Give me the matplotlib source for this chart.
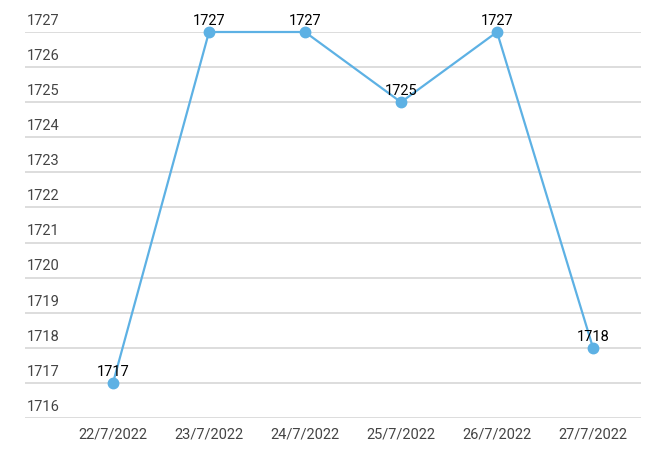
import matplotlib.pyplot as plt
from matplotlib import transforms

plt.rcParams['font.family'] = ['Roboto', 'DejaVu Sans']

dates = ['22/7/2022', '23/7/2022', '24/7/2022', '25/7/2022', '26/7/2022', '27/7/2022']
values = [1717, 1727, 1727, 1725, 1727, 1718]
y_ticks = list(range(1716, 1728))

line_color = '#5DB1E4'
grid_color = '#DDDDDD'
label_color = '#444444'

fig = plt.figure(figsize=(6.6, 4.67), dpi=100)
ax = fig.add_axes([25 / 660, 49 / 467, 616 / 660, 386 / 467])

x = list(range(len(dates)))
ax.plot(x, values, color=line_color, lw=1.6, marker='o', markersize=7.5,
        zorder=3, clip_on=False)

for xi, v in zip(x, values):
    ax.annotate(str(v), (xi, v), xytext=(0, 3), textcoords='offset points',
                ha='center', va='bottom', fontsize=10.5, color='black', zorder=4)

ax.set_xlim(-0.5 - 40 / 96, 5.5)
ax.set_ylim(1716, 1727)

# horizontal grid lines with labels sitting on top of them
trans = transforms.blended_transform_factory(ax.transAxes, ax.transData)
for t in y_ticks:
    ax.axhline(t, color=grid_color, lw=1.4, zorder=1)
    ax.annotate(str(t), (0, t), xycoords=trans, xytext=(1, 3),
                textcoords='offset points', ha='left', va='bottom',
                fontsize=10.5, color=label_color)

ax.set_yticks([])
ax.set_xticks(x)
ax.set_xticklabels(dates, fontsize=10.5, color=label_color)
ax.tick_params(axis='x', length=0, pad=7)
for s in ax.spines.values():
    s.set_visible(False)

fig.savefig('out.png', dpi=100)
